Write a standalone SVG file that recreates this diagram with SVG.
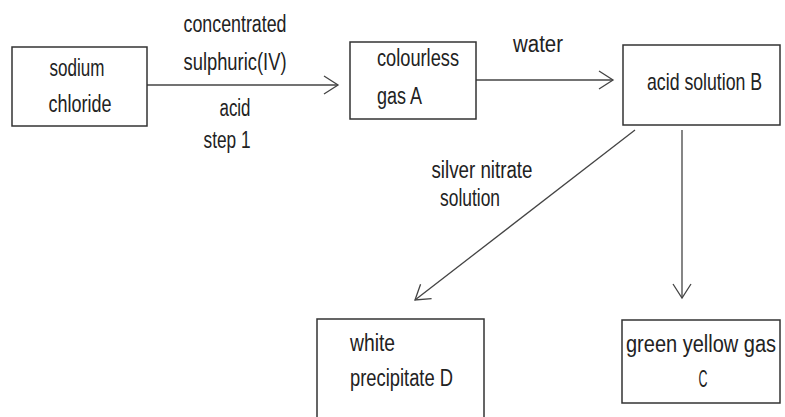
<svg xmlns="http://www.w3.org/2000/svg" width="785" height="417" viewBox="0 0 785 417">
<style>
.box{fill:#fff;stroke:#333;stroke-width:1.5}
.t{font-family:"Liberation Sans Narrow","Liberation Sans",Arial,sans-serif;font-size:23px;fill:#222}
.c{fill:none;stroke:#444;stroke-width:1.3}
</style>
<defs>
<marker id="ah" markerUnits="userSpaceOnUse" markerWidth="20" markerHeight="22" refX="15" refY="10" orient="auto" viewBox="0 0 20 22">
<path d="M1,1 L15,10 L1,19" fill="none" stroke="#444" stroke-width="1.3"/>
</marker>
</defs>
<rect width="785" height="417" fill="#fff"/>
<g id="connectors">
<line class="c" x1="147" y1="85" x2="338" y2="85" marker-end="url(#ah)"/>
<line class="c" x1="476" y1="80" x2="613" y2="80" marker-end="url(#ah)"/>
<line class="c" x1="635" y1="130" x2="415" y2="300" marker-end="url(#ah)"/>
<line class="c" x1="682" y1="130" x2="682" y2="298" marker-end="url(#ah)"/>
<text class="t" x="235" y="32" text-anchor="middle" textLength="103" lengthAdjust="spacingAndGlyphs">concentrated</text>
<text class="t" x="235" y="70" text-anchor="middle" textLength="103" lengthAdjust="spacingAndGlyphs">sulphuric(IV)</text>
<text class="t" x="235" y="116" text-anchor="middle" textLength="31" lengthAdjust="spacingAndGlyphs">acid</text>
<text class="t" x="227" y="148" text-anchor="middle" textLength="47" lengthAdjust="spacingAndGlyphs">step 1</text>
<text class="t" x="538" y="52" text-anchor="middle" textLength="50" lengthAdjust="spacingAndGlyphs">water</text>
<text class="t" x="482" y="178" text-anchor="middle" textLength="101" lengthAdjust="spacingAndGlyphs">silver nitrate</text>
<text class="t" x="470" y="206" text-anchor="middle" textLength="60" lengthAdjust="spacingAndGlyphs">solution</text>
</g>
<g id="sodium-chloride">
<rect class="box" x="12" y="47" width="135" height="79"/>
<text class="t" x="77" y="76" text-anchor="middle" textLength="55" lengthAdjust="spacingAndGlyphs">sodium</text>
<text class="t" x="80" y="112" text-anchor="middle" textLength="63" lengthAdjust="spacingAndGlyphs">chloride</text>
</g>
<g id="colourless-gas-A">
<rect class="box" x="350" y="42" width="126" height="77"/>
<text class="t" x="377" y="66" textLength="82" lengthAdjust="spacingAndGlyphs">colourless</text>
<text class="t" x="377" y="104" textLength="45" lengthAdjust="spacingAndGlyphs">gas A</text>
</g>
<g id="acid-solution-B">
<rect class="box" x="623" y="45" width="157" height="80"/>
<text class="t" transform="translate(647,90) scale(0.77,1)">acid solution B</text>
</g>
<g id="white-precipitate-D">
<rect class="box" x="317" y="319" width="167" height="110"/>
<text class="t" x="350" y="351" textLength="45" lengthAdjust="spacingAndGlyphs">white</text>
<text class="t" x="350" y="386" textLength="103" lengthAdjust="spacingAndGlyphs">precipitate D</text>
</g>
<g id="green-yellow-gas-C">
<rect class="box" x="622" y="320" width="158" height="83"/>
<text class="t" transform="translate(626,352) scale(0.87,1)">green yellow gas</text>
<text class="t" x="703" y="387" text-anchor="middle" textLength="9" lengthAdjust="spacingAndGlyphs">C</text>
</g>
</svg>
